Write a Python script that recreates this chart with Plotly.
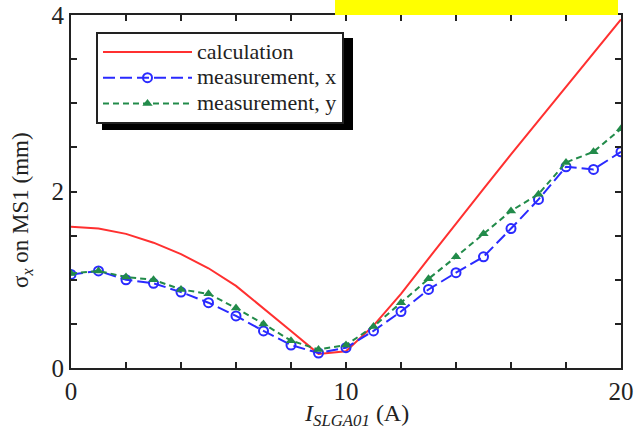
import plotly.graph_objects as go

# Data
x_calc = [0, 1, 2, 3, 4, 5, 6, 7, 8, 9, 10, 11, 12, 13, 14, 15, 16, 17, 18, 19, 20]
y_calc = [1.60, 1.58, 1.52, 1.42, 1.29, 1.13, 0.93, 0.68, 0.42, 0.16, 0.19,
          0.48, 0.84, 1.24, 1.64, 2.03, 2.42, 2.80, 3.19, 3.57, 3.95]

x_meas = [0, 1, 2, 3, 4, 5, 6, 7, 8, 9, 10, 11, 12, 13, 14, 15, 16, 17, 18, 19, 20]
y_meas_x = [1.06, 1.10, 1.00, 0.96, 0.86, 0.74, 0.59, 0.42, 0.26, 0.17, 0.23,
            0.42, 0.64, 0.89, 1.08, 1.26, 1.58, 1.91, 2.28, 2.25, 2.45]
y_meas_y = [1.07, 1.10, 1.03, 1.00, 0.89, 0.84, 0.68, 0.50, 0.31, 0.21, 0.26,
            0.47, 0.74, 1.01, 1.26, 1.52, 1.78, 1.97, 2.33, 2.45, 2.71]

names = ["calculation", "measurement, x", "measurement, y"]
x_ticks = [0, 10, 20]
x_ticklabels = ["0", "10", "20"]
y_ticks = [0, 2, 4]
y_ticklabels = ["0", "2", "4"]

FONT = "Liberation Serif, Times New Roman, serif"
INK = "#222"

# plot area in pixels
L, R, T, B = 71, 621, 15, 368
PW, PH = R - L, B - T


def px(xp):
    return (xp - L) / PW


def py(yp):
    return (B - yp) / PH


def big(s):
    return "<span style='font-size:22px'>" + s + "</span>"


fig = go.Figure()
fig.add_trace(go.Scatter(x=x_calc, y=y_calc, mode="lines", name=big(names[0]),
                         line=dict(color="#FF3030", width=2)))
fig.add_trace(go.Scatter(x=x_meas, y=y_meas_x, mode="lines+markers", name=big(names[1]),
                         line=dict(color="#2A2AFF", width=2, dash="12px,5px"),
                         marker=dict(symbol="circle-open", size=9, color="#2A2AFF",
                                     line=dict(width=2, color="#2A2AFF"))))
fig.add_trace(go.Scatter(x=x_meas, y=y_meas_y, mode="lines+markers", name=big(names[2]),
                         line=dict(color="#228B4A", width=2, dash="6px,4px"),
                         marker=dict(symbol="triangle-up", size=9, color="#228B4A")))

axis_common = dict(showline=True, linecolor=INK, linewidth=2, mirror="ticks",
                   ticks="inside", ticklen=6, tickwidth=1.5, tickcolor=INK,
                   showgrid=False, zeroline=False, automargin=False,
                   tickfont=dict(family=FONT, size=25, color=INK))

fig.update_xaxes(range=[0, 20], tickvals=x_ticks, ticktext=x_ticklabels,
                 minor=dict(dtick=2, tick0=0, ticks="inside", ticklen=6, tickwidth=1.5,
                            tickcolor=INK, showgrid=False),
                 **axis_common)
fig.update_yaxes(range=[0, 4], tickvals=y_ticks, ticktext=y_ticklabels,
                 minor=dict(dtick=0.5, tick0=0, ticks="inside", ticklen=6, tickwidth=1.5,
                            tickcolor=INK, showgrid=False),
                 **axis_common)

# axis titles
fig.add_annotation(xref="paper", yref="paper", x=px(356), y=py(415),
                   xanchor="center", yanchor="middle", showarrow=False,
                   text="<i>I<sub>SLGA01</sub></i> (A)",
                   font=dict(family=FONT, size=24, color=INK))
fig.add_annotation(xref="paper", yref="paper", x=px(22), y=py(290),
                   xanchor="center", yanchor="bottom", showarrow=False, textangle=-90,
                   text="σ<sub><i>x</i></sub> on MS1 (mm)",
                   font=dict(family=FONT, size=23, color=INK))

# legend shadow
fig.add_shape(type="rect", xref="paper", yref="paper", layer="below",
              x0=px(102), x1=px(353), y0=py(130), y1=py(38),
              fillcolor="black", line=dict(width=0))
# yellow overlay on top
fig.add_shape(type="rect", xref="paper", yref="paper", layer="above",
              x0=px(335), x1=px(618), y0=py(15), y1=py(-2),
              fillcolor="#FFFF00", line=dict(width=0))

fig.update_layout(
    width=640, height=436,
    template="none",
    margin=dict(l=L, r=640 - R, t=T, b=436 - B),
    paper_bgcolor="white", plot_bgcolor="white",
    font=dict(family=FONT, color=INK),
    legend=dict(x=px(96), y=py(32), xanchor="left", yanchor="top",
                bgcolor="white", bordercolor=INK, borderwidth=2,
                font=dict(family=FONT, size=17.5, color=INK),
                itemwidth=89, tracegroupgap=0),
    showlegend=True,
)

fig.write_html("out.html")
